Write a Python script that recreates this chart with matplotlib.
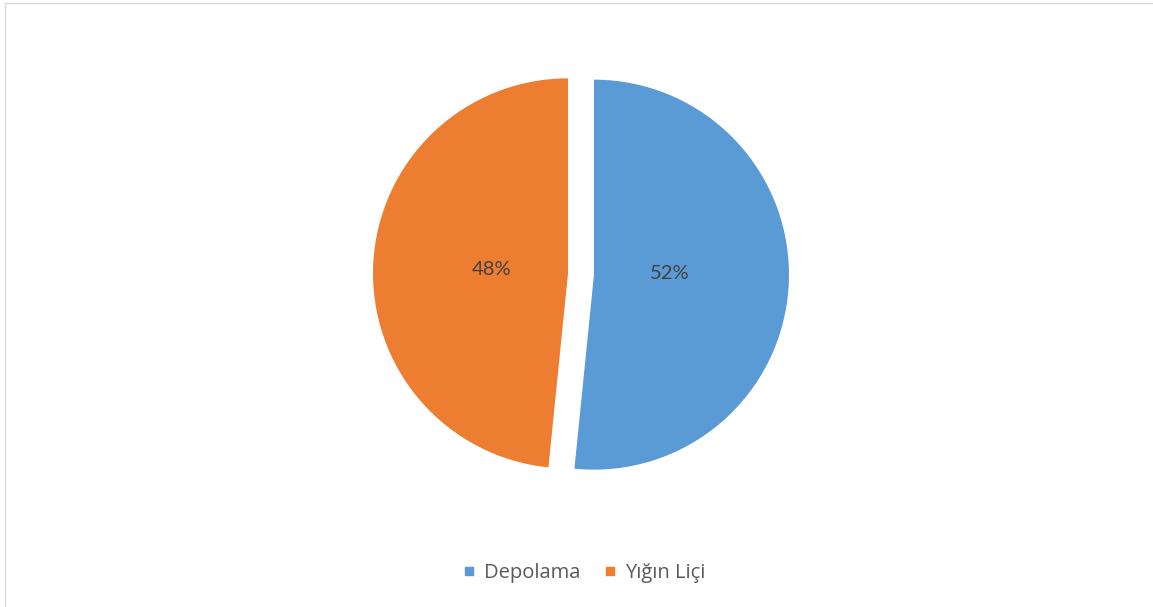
import matplotlib
matplotlib.use("Agg")
import matplotlib.pyplot as plt
from matplotlib.lines import Line2D

categories = ["Depolama", "Yığın Liçi"]
values = [51.6, 48.4]
colors = ["#5B9BD5", "#ED7D31"]

W, H = 1153, 607
fig = plt.figure(figsize=(W / 100, H / 100), dpi=100)
ax = fig.add_axes([0, 0, 1, 1])

cx, cy, r = 581, H - 274, 195
wedges, texts, autotexts = ax.pie(
    values, colors=colors, startangle=90, counterclock=False,
    explode=[13, 13], center=(cx, cy), radius=r,
    autopct="%1.0f%%", pctdistance=0.39, labeldistance=None,
    wedgeprops=dict(linewidth=0),
    textprops=dict(color="#404040", fontsize=14.5, family=["Lato", "DejaVu Sans"]),
)
# Excel-like label placement: nearly level with the pie centre
bx, by = autotexts[0].get_position()
autotexts[0].set_position((bx, by + 5))

ax.set_xlim(0, W)
ax.set_ylim(0, H)
ax.set_aspect("equal")
ax.axis("off")

handles = [Line2D([0], [0], marker="s", linestyle="none", markersize=6,
                  markerfacecolor=c, markeredgecolor=c) for c in colors]
leg = fig.legend(handles, categories, loc="center",
                 bbox_to_anchor=(584 / W, 1 - 573 / H), ncol=2, frameon=False,
                 handlelength=0.6, handletextpad=0.45, columnspacing=1.15,
                 prop=dict(family=["Open Sans", "DejaVu Sans"], size=14.5))
for t in leg.get_texts():
    t.set_color("#595959")

# light outer border (top and left visible)
fig.add_artist(Line2D([4.5 / W, 1], [1 - 2.5 / H, 1 - 2.5 / H], transform=fig.transFigure,
                      color="#D9D9D9", linewidth=1))
fig.add_artist(Line2D([4.5 / W, 4.5 / W], [0, 1 - 2.5 / H], transform=fig.transFigure,
                      color="#D9D9D9", linewidth=1))

fig.savefig("out.png", dpi=100, facecolor="white")
